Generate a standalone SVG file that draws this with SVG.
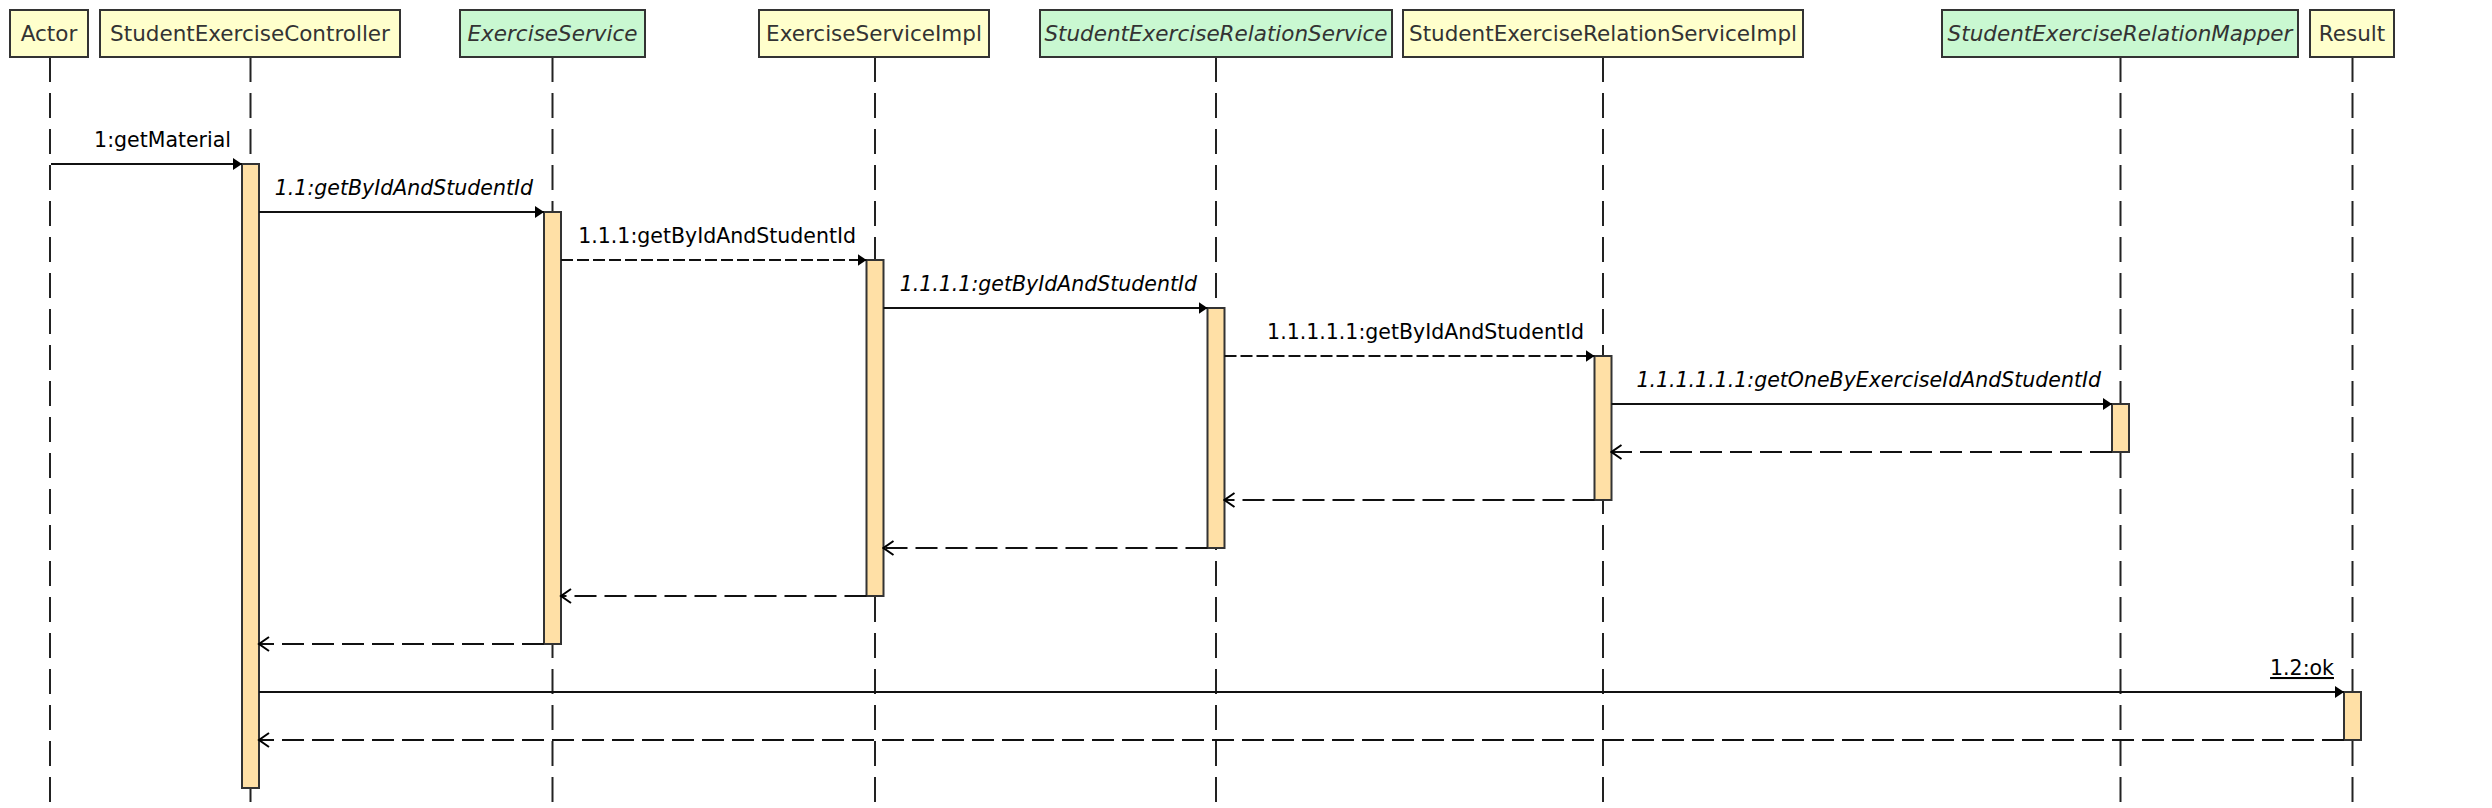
<svg xmlns="http://www.w3.org/2000/svg" width="2492" height="808" viewBox="0 0 2492 808">
<style>
.box{stroke:#333;stroke-width:2}
.y{fill:#FFFFCC}
.g{fill:#C9F8D1}
.title{font-family:"DejaVu Sans","Liberation Sans",sans-serif;font-size:21.5px;fill:#333;text-anchor:middle}
.it{font-style:italic}
.life{stroke:#222;stroke-width:2;stroke-dasharray:25 11;fill:none}
.act{fill:#FFE0A6;stroke:#333;stroke-width:2}
.msg{stroke:#111;stroke-width:2;fill:none}
.call{marker-end:url(#fill)}
.dcall{stroke-dasharray:12 4}
.ret{stroke-dasharray:22 8;marker-end:url(#open)}
.lbl{font-family:"DejaVu Sans","Liberation Sans",sans-serif;font-size:20.5px;fill:#000;text-anchor:end}
</style>
<defs>
<marker id="fill" markerUnits="userSpaceOnUse" markerWidth="10" markerHeight="14" refX="9" refY="7" orient="auto"><path d="M0,1 L9,7 L0,13 Z" fill="#000"/></marker>
<marker id="open" markerUnits="userSpaceOnUse" markerWidth="13" markerHeight="18" refX="11" refY="8" orient="auto"><path d="M1,1 L11,8 L1,15" fill="none" stroke="#000" stroke-width="2"/></marker>
</defs>
<rect width="2492" height="808" fill="#fff"/>

<g id="actor">
<line class="life" x1="50" y1="57" x2="50" y2="806"/>
<rect class="box y" x="10" y="10" width="78" height="47"/>
<text class="title" x="49" y="41">Actor</text>
</g>
<g id="controller">
<line class="life" x1="250.5" y1="57" x2="250.5" y2="806"/>
<rect class="box y" x="100" y="10" width="300" height="47"/>
<text class="title" x="250" y="41">StudentExerciseController</text>
<rect class="act" x="242" y="164" width="17" height="624"/>
</g>
<g id="exerciseService">
<line class="life" x1="552.5" y1="57" x2="552.5" y2="806"/>
<rect class="box g" x="460" y="10" width="185" height="47"/>
<text class="title it" x="552.5" y="41">ExerciseService</text>
<rect class="act" x="544" y="212" width="17" height="432"/>
</g>
<g id="exerciseServiceImpl">
<line class="life" x1="875" y1="57" x2="875" y2="806"/>
<rect class="box y" x="759" y="10" width="230" height="47"/>
<text class="title" x="874" y="41">ExerciseServiceImpl</text>
<rect class="act" x="866.5" y="260" width="17" height="336"/>
</g>
<g id="studentExerciseRelationService">
<line class="life" x1="1216" y1="57" x2="1216" y2="806"/>
<rect class="box g" x="1040" y="10" width="352" height="47"/>
<text class="title it" x="1216" y="41">StudentExerciseRelationService</text>
<rect class="act" x="1207.5" y="308" width="17" height="240"/>
</g>
<g id="studentExerciseRelationServiceImpl">
<line class="life" x1="1603" y1="57" x2="1603" y2="806"/>
<rect class="box y" x="1403" y="10" width="400" height="47"/>
<text class="title" x="1603" y="41">StudentExerciseRelationServiceImpl</text>
<rect class="act" x="1594.5" y="356" width="17" height="144"/>
</g>
<g id="studentExerciseRelationMapper">
<line class="life" x1="2120.5" y1="57" x2="2120.5" y2="806"/>
<rect class="box g" x="1942" y="10" width="356" height="47"/>
<text class="title it" x="2120" y="41">StudentExerciseRelationMapper</text>
<rect class="act" x="2112" y="404" width="17" height="48"/>
</g>
<g id="result">
<line class="life" x1="2352.5" y1="57" x2="2352.5" y2="806"/>
<rect class="box y" x="2310" y="10" width="84" height="47"/>
<text class="title" x="2352" y="41">Result</text>
<rect class="act" x="2344" y="692" width="17" height="48"/>
</g>

<g id="connectors">
<line class="msg call" x1="51" y1="164" x2="242" y2="164"/>
<text class="lbl" x="231" y="147">1:getMaterial</text>
<line class="msg call" x1="259" y1="212" x2="544" y2="212"/>
<text class="lbl it" x="533" y="195">1.1:getByIdAndStudentId</text>
<line class="msg call dcall" x1="561" y1="260" x2="866.5" y2="260"/>
<text class="lbl" x="856" y="243">1.1.1:getByIdAndStudentId</text>
<line class="msg call" x1="883.5" y1="308" x2="1207.5" y2="308"/>
<text class="lbl it" x="1197" y="291">1.1.1.1:getByIdAndStudentId</text>
<line class="msg call dcall" x1="1224.5" y1="356" x2="1594.5" y2="356"/>
<text class="lbl" x="1584" y="339">1.1.1.1.1:getByIdAndStudentId</text>
<line class="msg call" x1="1611.5" y1="404" x2="2112" y2="404"/>
<text class="lbl it" x="2101" y="387">1.1.1.1.1.1:getOneByExerciseIdAndStudentId</text>
<line class="msg ret" x1="2112" y1="452" x2="1611.5" y2="452"/>
<line class="msg ret" x1="1594.5" y1="500" x2="1224.5" y2="500"/>
<line class="msg ret" x1="1207.5" y1="548" x2="883.5" y2="548"/>
<line class="msg ret" x1="866.5" y1="596" x2="561" y2="596"/>
<line class="msg ret" x1="544" y1="644" x2="259" y2="644"/>
<line class="msg call" x1="259" y1="692" x2="2344" y2="692"/>
<text class="lbl" x="2334" y="675" text-decoration="underline">1.2:ok</text>
<line class="msg ret" x1="2344" y1="740" x2="259" y2="740"/>
</g>
</svg>
